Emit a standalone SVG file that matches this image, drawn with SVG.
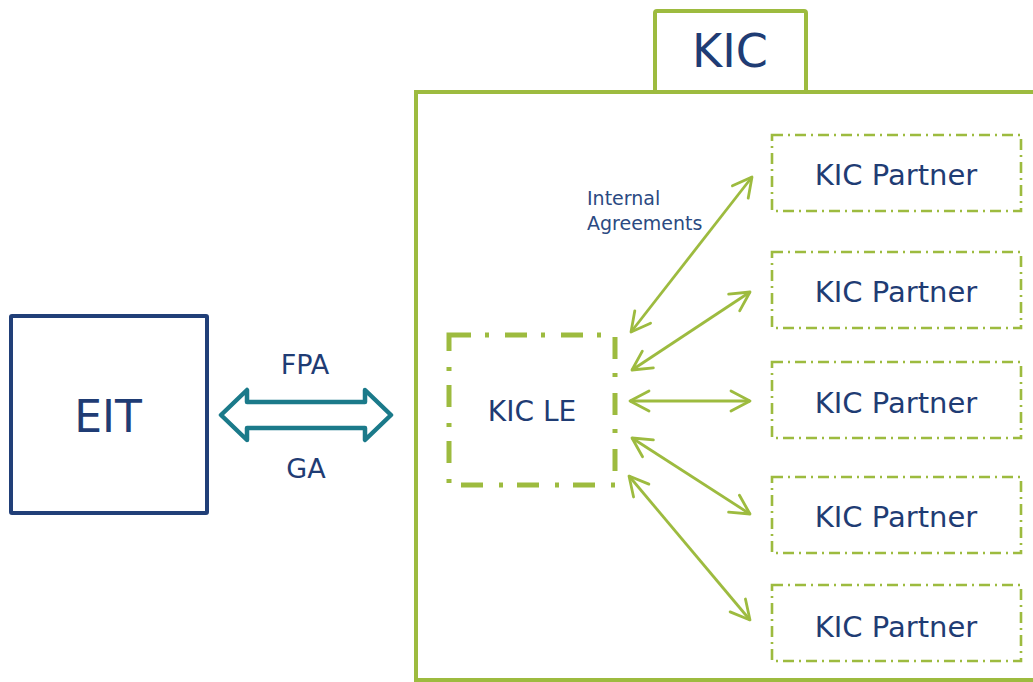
<svg xmlns="http://www.w3.org/2000/svg" width="1033" height="682" viewBox="0 0 1033 682">
  <style>
    text { font-family: "DejaVu Sans", Verdana, sans-serif; fill: #1f3c74; text-anchor: middle; }
    .partner { fill: none; stroke: #9dbb3f; stroke-width: 2.6; stroke-dasharray: 11 5 2 5; }
    .conn { stroke: #9dbb3f; stroke-width: 2.8; fill: none; marker-start: url(#chev); marker-end: url(#chev); }
  </style>
  <defs>
    <marker id="chev" markerUnits="userSpaceOnUse" viewBox="-22 -13 24 26" markerWidth="24" markerHeight="26" refX="0" refY="0" orient="auto-start-reverse">
      <path d="M -19 -10 L 0 0 L -19 10" fill="none" stroke="#9dbb3f" stroke-width="2.8" stroke-linecap="round" stroke-linejoin="round"/>
    </marker>
  </defs>
  <rect width="1033" height="682" fill="#ffffff"/>

  <g id="eit">
    <rect x="11" y="316" width="196" height="197" fill="none" stroke="#213f78" stroke-width="4" rx="1"/>
    <text x="108" y="432" font-size="44">EIT</text>
  </g>

  <g id="kic">
    <rect x="416" y="92" width="640" height="588" fill="none" stroke="#9dbb3f" stroke-width="4"/>
    <rect x="655" y="11" width="151" height="81" fill="#ffffff" stroke="#9dbb3f" stroke-width="4" rx="2"/>
    <text x="730" y="67" font-size="46">KIC</text>
  </g>

  <g id="kic-le">
    <rect x="449" y="335" width="166" height="150" fill="none" stroke="#9dbb3f" stroke-width="5" stroke-dasharray="22 14 4 16"/>
    <text x="532" y="421" font-size="28">KIC LE</text>
  </g>

  <g id="partner1">
    <rect x="772" y="135" width="249" height="76" class="partner"/>
    <text x="896" y="185" font-size="29">KIC Partner</text>
  </g>
  <g id="partner2">
    <rect x="772" y="252" width="249" height="76" class="partner"/>
    <text x="896" y="302" font-size="29">KIC Partner</text>
  </g>
  <g id="partner3">
    <rect x="772" y="362" width="249" height="76" class="partner"/>
    <text x="896" y="413" font-size="29">KIC Partner</text>
  </g>
  <g id="partner4">
    <rect x="772" y="477" width="249" height="76" class="partner"/>
    <text x="896" y="527" font-size="29">KIC Partner</text>
  </g>
  <g id="partner5">
    <rect x="772" y="585" width="249" height="76" class="partner"/>
    <text x="896" y="637" font-size="29">KIC Partner</text>
  </g>

  <g id="connectors">
    <path d="M 221 415 L 247 390 L 247 402 L 365 402 L 365 390 L 391 415 L 365 440 L 365 428 L 247 428 L 247 440 Z" fill="#ffffff" stroke="#1b7a8a" stroke-width="4.5" stroke-linejoin="round"/>
    <text x="305" y="374" font-size="27">FPA</text>
    <text x="306" y="478" font-size="27">GA</text>

    <line x1="631" y1="332" x2="752" y2="177" class="conn"/>
    <line x1="632" y1="370" x2="750" y2="292" class="conn"/>
    <line x1="630" y1="401" x2="750" y2="401" class="conn"/>
    <line x1="632" y1="438" x2="750" y2="514" class="conn"/>
    <line x1="629" y1="476" x2="750" y2="620" class="conn"/>
    <text x="587" y="205" font-size="19" style="text-anchor:start; fill:#2b4a82">Internal</text>
    <text x="587" y="230" font-size="19" style="text-anchor:start; fill:#2b4a82">Agreements</text>
  </g>
</svg>
